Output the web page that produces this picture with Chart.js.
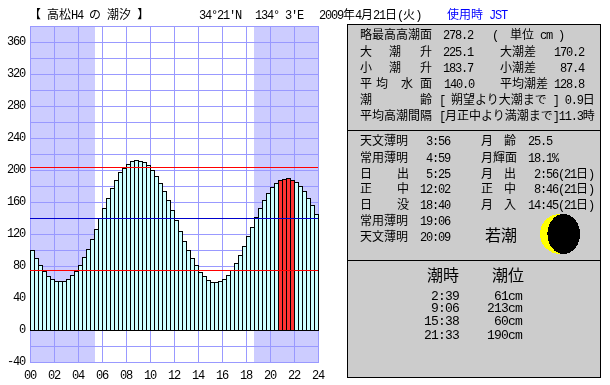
<!DOCTYPE html>
<html>
<head>
<meta charset="utf-8">
<script src="https://cdn.jsdelivr.net/npm/chart.js@4"></script>
<style>
body { margin: 0; background: #fff; }
#wrap { position: relative; width: 610px; height: 385px; overflow: hidden; }
#chart { position: absolute; left: 0; top: 0; }
.box { position: absolute; left: 347px; width: 252px; background: #ccc; border: 1px solid #000; }
.t { position: absolute; white-space: pre; font: 12px/16px "Noto Sans CJK JP", sans-serif; color: #000; }
.t span { font-family: "Liberation Mono", monospace; letter-spacing: -1.2px; }
.blue { color: #00f; }
.big { font-size: 16px; line-height: 20px; }
.num { font-size: 13px; }
.num span { letter-spacing: -0.8px; }
#moon { position: absolute; left: 540px; top: 214px; }
</style>
</head>
<body>
<div id="wrap">
  <canvas id="chart" width="610" height="385"></canvas>
  <div class="box" style="top:24px;height:105px"></div>
  <div class="box" style="top:130px;height:129px"></div>
  <div class="box" style="top:260px;height:116px"></div>
  <svg id="moon" width="40" height="40" shape-rendering="crispEdges">
    <circle cx="20" cy="20" r="20" fill="#ff0"></circle>
    <ellipse cx="23.7" cy="20" rx="16.3" ry="20" fill="#000"></ellipse>
  </svg>
</div>
<script>
// tide level every 20 minutes (cm)
const tideLevels = [100, 90, 81.25, 73.75, 67.5, 63.75, 61.25, 61.25, 61.25, 63.75, 68.75, 73.75,
    81.25, 91.25, 101.25, 113.75, 126.25, 140, 152.5, 165, 177.5, 187.5, 197.5, 202.5,
    207.5, 211.25, 212.5, 211.25, 210, 206.25, 200, 192.5, 183.75, 173.75, 162.5, 150,
    137.5, 123.75, 111.25, 100, 90, 81.25, 72.5, 67.5, 62.5, 60, 60, 61.25,
    63.75, 68.75, 75, 83.75, 93.75, 105, 117.5, 128.75, 141.25, 152.5, 162.5, 171.25,
    178.75, 183.75, 187.5, 188.75, 190, 187.5, 185, 180, 173.75, 165, 156.25, 145];
const redSlots = [62, 63, 64, 65];
const meanLevel = 140;
const highLine = 203.75;
const lowLine = 75;
const sunrise = 5 + 25 / 60;
const sunset = 18 + 40 / 60;

const textItems = [
    [29, 6, "【 高松H4 の 潮汐 】"],
    [199, 6, "34°21'N"], [255, 6, "134° 3'E"], [319, 6, "2009年4月21日(火)"],
    [447, 6, "使用時 JST", "blue"],

    [360, 26, "略最高高潮面"], [443, 26, "278.2"], [492, 26, "(  単位 cm )"],
    [360, 43, "大"], [389, 43, "潮"], [420, 43, "升"], [443, 43, "225.1"], [500, 43, "大潮差"], [554, 43, "170.2"],
    [360, 59, "小"], [389, 59, "潮"], [420, 59, "升"], [443, 59, "183.7"], [500, 59, "小潮差"], [560, 59, "87.4"],
    [360, 75, "平"], [376, 75, "均"], [401, 75, "水"], [420, 75, "面"], [444, 75, "140.0"], [500, 75, "平均潮差"], [554, 75, "128.8"],
    [360, 91, "潮"], [420, 91, "齢"], [439, 91, "[ 朔望より大潮まで ] 0.9日"],
    [360, 107, "平均高潮間隔"], [439, 107, "[月正中より満潮まで]11.3時"],

    [360, 132, "天文薄明"], [426, 132, "3:56"], [481, 132, "月"], [504, 132, "齢"], [528, 132, "25.5"],
    [360, 149, "常用薄明"], [426, 149, "4:59"], [481, 149, "月輝面"], [528, 149, "18.1%"],
    [360, 165, "日"], [397, 165, "出"], [426, 165, "5:25"], [481, 165, "月"], [504, 165, "出"], [534, 165, "2:56(21日)"],
    [360, 180, "正"], [397, 180, "中"], [420, 180, "12:02"], [481, 180, "正"], [504, 180, "中"], [534, 180, "8:46(21日)"],
    [360, 196, "日"], [397, 196, "没"], [420, 196, "18:40"], [481, 196, "月"], [504, 196, "入"], [528, 196, "14:45(21日)"],
    [360, 212, "常用薄明"], [420, 212, "19:06"],
    [360, 228, "天文薄明"], [420, 228, "20:09"],
    [485, 224, "若潮", "big"],

    [427, 264, "潮時", "big"], [492, 264, "潮位", "big"],
    [431, 287, "2:39", "num"], [431, 299, "9:06", "num"], [424, 312, "15:38", "num"], [424, 326, "21:33", "num"],
    [494, 287, "61cm", "num"], [487, 299, "213cm", "num"], [494, 312, "60cm", "num"], [487, 326, "190cm", "num"]
];

// ascii parts go in a mono font squeezed to half width
function addText() {
    const wrap = document.getElementById("wrap");
    textItems.forEach(item => {
        const d = document.createElement("div");
        d.className = "t " + (item[3] || "");
        d.style.left = item[0] + "px";
        d.style.top = item[1] + "px";
        d.innerHTML = item[2].replace(/[\x20-\x7f°]+/g, m => `<span>${m}</span>`);
        wrap.appendChild(d);
    });
}
addText();

const shadePlugin = {
    id: "shade",
    beforeDraw(chart) {
        const { ctx, chartArea, scales } = chart;
        ctx.letterSpacing = "-1.2px";
        ctx.fillStyle = "#ccccff";
        const a = scales.hours.getPixelForValue(sunrise);
        const b = scales.hours.getPixelForValue(sunset);
        ctx.fillRect(chartArea.left, chartArea.top, a - chartArea.left, chartArea.height);
        ctx.fillRect(b, chartArea.top, chartArea.right - b + 1, chartArea.height);
    },
    // keep 1px outlines on whole pixels
    beforeDatasetDraw(chart, args) {
        const isBar = chart.data.datasets[args.index].type === "bar";
        chart.ctx.save();
        chart.ctx.translate(isBar ? 0.5 : 0, isBar ? 0 : 0.5);
    },
    afterDatasetDraw(chart) {
        chart.ctx.restore();
    }
};

function flatLine(value, color) {
    return {
        type: "line",
        xAxisID: "hours",
        data: [{ x: 0, y: value }, { x: 24, y: value }],
        borderColor: color,
        borderWidth: 1,
        pointRadius: 0,
        order: 0,
        clip: false
    };
}

new Chart(document.getElementById("chart").getContext("2d"), {
    type: "bar",
    data: {
        datasets: [
            flatLine(lowLine, "#ff0000"),
            flatLine(highLine, "#ff0000"),
            flatLine(meanLevel, "#0000cc"),
            {
                type: "bar",
                xAxisID: "hours",
                // each slot is 20 minutes, centred in its third of an hour
                data: tideLevels.map((level, i) => ({ x: (i + 0.5) / 3, y: level })),
                backgroundColor: tideLevels.map((level, i) => redSlots.includes(i) ? "#ff3333" : "#ccffff"),
                borderColor: "#000",
                borderWidth: 1,
                borderSkipped: false,
                barThickness: 5,
                inflateAmount: 0,
                base: -1.25,
                order: 1,
                clip: false
            }
        ]
    },
    options: {
        responsive: false,
        animation: false,
        layout: { padding: { top: 26, right: 292, left: 0, bottom: 0 } },
        plugins: { legend: { display: false }, tooltip: { enabled: false } },
        scales: {
            hours: {
                type: "linear",
                position: "bottom",
                min: 0,
                max: 24,
                offset: false,
                afterFit(s) { s.height = 23; },
                grid: { color: "#9999ff", drawTicks: false, offset: false },
                border: { color: "#9999ff" },
                ticks: {
                    stepSize: 2,
                    padding: 7,
                    maxRotation: 0,
                    autoSkip: false,
                    color: "#000",
                    font: { family: "Liberation Mono", size: 12 },
                    callback: v => String(v).padStart(2, "0")
                }
            },
            y: {
                min: -40,
                max: 380,
                afterFit(s) { s.width = 30; },
                grid: { color: "#9999ff", drawTicks: false },
                border: { color: "#9999ff" },
                ticks: {
                    stepSize: 20,
                    padding: 5,
                    autoSkip: false,
                    color: "#000",
                    font: { family: "Liberation Mono", size: 12 },
                    callback: v => v % 40 === 0 ? String(v) : ""
                }
            }
        }
    },
    plugins: [shadePlugin]
});
</script>
</body>
</html>
